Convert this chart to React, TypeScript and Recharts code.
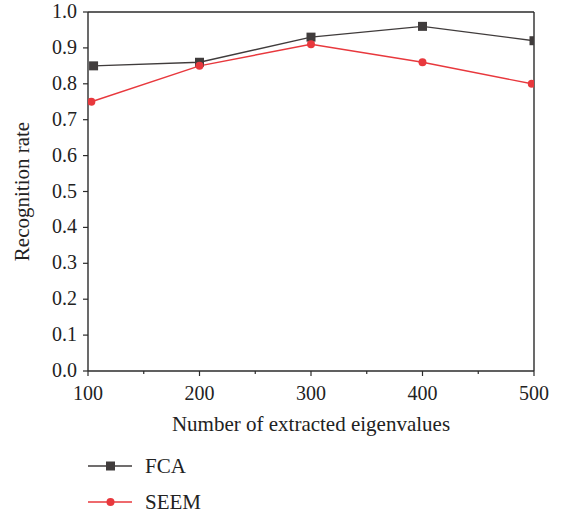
import React from 'react';
import { LineChart, Line, XAxis, YAxis, ReferenceLine } from 'recharts';

// Recognition rate vs. number of extracted eigenvalues
const fcaX = [105, 200, 300, 400, 500];
const fcaRate = [0.85, 0.86, 0.93, 0.96, 0.92];
const seemX = [103, 200, 300, 400, 498];
const seemRate = [0.75, 0.85, 0.91, 0.86, 0.8];

const xMajor = [100, 200, 300, 400, 500];
const xMinor = [150, 250, 350, 450];
const yMajor = [0, 0.1, 0.2, 0.3, 0.4, 0.5, 0.6, 0.7, 0.8, 0.9, 1.0];
const yMinor = [0.05, 0.15, 0.25, 0.35, 0.45, 0.55, 0.65, 0.75, 0.85, 0.95];

const seriesNames = ['FCA', 'SEEM'];
const FCA_COLOR = '#403c3c';
const SEEM_COLOR = '#e8383d';
const AXIS = '#2b2b2b';
const FONT = '"Liberation Serif", "Times New Roman", serif';

const fcaData = fcaX.map((x, i) => ({ x, rate: fcaRate[i] }));
const seemData = seemX.map((x, i) => ({ x, rate: seemRate[i] }));

const isMajor = (list: number[], v: number) => list.some((m) => Math.abs(m - v) < 1e-6);

const XTick = (props: any) => {
  const { x, y, payload } = props;
  const major = isMajor(xMajor, payload.value);
  return (
    <g>
      <line x1={x} x2={x} y1={y} y2={y + (major ? 5 : 3)} stroke={AXIS} strokeWidth={1.2} />
      {major && (
        <text x={x} y={y + 29} textAnchor="middle" fontFamily={FONT} fontSize={20} fill="#222">
          {payload.value}
        </text>
      )}
    </g>
  );
};

const YTick = (props: any) => {
  const { x, y, payload } = props;
  const major = isMajor(yMajor, payload.value);
  return (
    <g>
      <line x1={x} x2={x - (major ? 5 : 3)} y1={y} y2={y} stroke={AXIS} strokeWidth={1.2} />
      {major && (
        <text x={x - 11} y={y + 6} textAnchor="end" fontFamily={FONT} fontSize={20} fill="#222">
          {payload.value.toFixed(1)}
        </text>
      )}
    </g>
  );
};

const YTitle = (props: any) => {
  const { viewBox } = props;
  const cy = viewBox.y + viewBox.height / 2;
  return (
    <text x={29} y={cy} transform={`rotate(-90 29 ${cy})`} textAnchor="middle" fontFamily={FONT} fontSize={21} fill="#222">
      Recognition rate
    </text>
  );
};

const SquareDot = (props: any) => {
  const { cx, cy, index } = props;
  return <rect key={`fca-${index}`} x={cx - 4.5} y={cy - 4.5} width={9} height={9} fill={FCA_COLOR} />;
};

const LegendRow = ({ name, color, square, top }: any) => (
  <div style={{ position: 'absolute', left: 86, top, height: 24, display: 'flex', alignItems: 'center' }}>
    <svg width={48} height={14}>
      <line x1={2} x2={46} y1={7} y2={7} stroke={color} strokeWidth={1.3} />
      {square ? <rect x={20} y={2.5} width={9} height={9} fill={color} /> : <circle cx={24.5} cy={7} r={4} fill={color} />}
    </svg>
    <span style={{ marginLeft: 11, fontFamily: FONT, fontSize: 21, color: '#222' }}>{name}</span>
  </div>
);

export default function App() {
  return (
    <div style={{ position: 'absolute', left: 0, top: 0, width: 567, height: 515, background: '#fff' }}>
      <LineChart width={567} height={515} margin={{ top: 12, right: 33, bottom: 84, left: 0 }}>
        <XAxis
          dataKey="x"
          type="number"
          domain={[100, 500]}
          ticks={[...xMajor, ...xMinor].sort((a, b) => a - b)}
          tick={<XTick />}
          tickLine={false}
          tickSize={0}
          tickMargin={0}
          axisLine={{ stroke: AXIS, strokeWidth: 1.4 }}
          height={60}
          allowDataOverflow
          label={{
            value: 'Number of extracted eigenvalues',
            position: 'insideBottom',
            offset: 0,
            dy: 0,
            fontFamily: FONT,
            fontSize: 21,
            fill: '#222',
          }}
        />
        <YAxis
          dataKey="rate"
          type="number"
          domain={[0, 1]}
          ticks={[...yMajor, ...yMinor].sort((a, b) => a - b)}
          tick={<YTick />}
          tickLine={false}
          tickSize={0}
          tickMargin={0}
          axisLine={{ stroke: AXIS, strokeWidth: 1.4 }}
          width={88}
          label={<YTitle />}
        />
        <ReferenceLine y={1} stroke={AXIS} strokeWidth={1.4} />
        <ReferenceLine x={500} stroke={AXIS} strokeWidth={1.4} />
        <Line
          data={fcaData}
          dataKey="rate"
          name={seriesNames[0]}
          type="linear"
          stroke={FCA_COLOR}
          strokeWidth={1.4}
          dot={<SquareDot />}
          activeDot={false}
          isAnimationActive={false}
        />
        <Line
          data={seemData}
          dataKey="rate"
          name={seriesNames[1]}
          type="linear"
          stroke={SEEM_COLOR}
          strokeWidth={1.4}
          dot={{ r: 4, fill: SEEM_COLOR, stroke: SEEM_COLOR, strokeWidth: 0 }}
          activeDot={false}
          isAnimationActive={false}
        />
      </LineChart>
      <LegendRow name={seriesNames[0]} color={FCA_COLOR} square top={454} />
      <LegendRow name={seriesNames[1]} color={SEEM_COLOR} top={490} />
    </div>
  );
}
